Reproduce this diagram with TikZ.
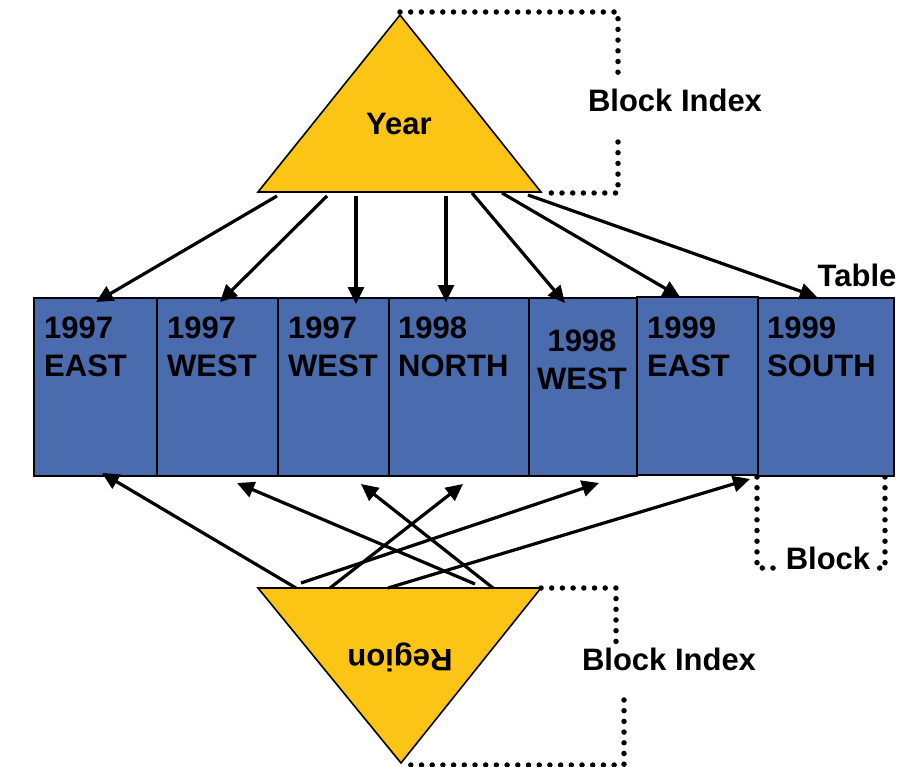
\documentclass[tikz,border=0pt]{standalone}
\usepackage{fontspec}
\setmainfont{Liberation Sans}
\usetikzlibrary{arrows.meta}
\definecolor{tri}{RGB}{252,196,20}
\definecolor{cellblue}{RGB}{75,107,175}
\tikzset{
  cell/.style={draw=black, line width=1.8pt, fill=cellblue, inner sep=0pt, anchor=north west},
  celltext/.style={font=\bfseries\fontsize{31}{38}\selectfont, inner sep=0pt, align=left},
  lbl/.style={font=\bfseries\fontsize{31}{38}\selectfont, inner sep=0pt},
  arr/.style={line width=3.2pt, -{Triangle[length=17pt,width=16pt]}},
  dots/.style={line width=5.5pt, line cap=round, dash pattern=on 0pt off 10.7pt},
  trishape/.style={draw=black, line width=1.6pt, fill=tri, line join=miter}
}
\begin{document}
\begin{tikzpicture}[x=1pt,y=-1pt]
\useasboundingbox (0,0) rectangle (907,767);

% triangles
\path[trishape] (400,15) -- (258,192) -- (541,192) -- cycle;
\path[trishape] (258,588) -- (541,588) -- (401,763) -- cycle;
\node[lbl] (year) at (399,124) {Year};
\node[lbl, rotate=180] (region) at (400,657) {Region};

% dotted brackets
\draw[dots] (400,12) -- (618,12) -- (618,75);
\draw[dots] (618,142) -- (618,193) -- (541,193);
\draw[dots] (541,588) -- (616,588) -- (616,643);
\draw[dots] (624,700) -- (624,765) -- (401,765);
\draw[dots] (757,477) -- (757,568) -- (781,568);
\draw[dots] (885,477) -- (885,568) -- (874,568);

\node[lbl, anchor=base] (bi1) at (675,112) {Block Index};
\node[lbl, anchor=base] (bi2) at (669,670) {Block Index};
\node[lbl, anchor=base] (blk) at (828,569) {Block};
\node[lbl, anchor=base] (tbl) at (857,287) {Table};

% table cells
\node[cell, minimum width=123pt, minimum height=178pt] (b1) at (33,297) {};
\node[cell, minimum width=121pt, minimum height=178pt] (b2) at (156,297) {};
\node[cell, minimum width=111pt, minimum height=178pt] (b3) at (277,297) {};
\node[cell, minimum width=140pt, minimum height=178pt] (b4) at (388,297) {};
\node[cell, minimum width=108pt, minimum height=178pt] (b5) at (528,297) {};
\node[cell, minimum width=121pt, minimum height=178pt] (b6) at (636,296) {};
\node[cell, minimum width=136pt, minimum height=178pt] (b7) at (757,297) {};

\node[celltext, anchor=north west] (t1) at (44,317) {1997\\EAST};
\node[celltext, anchor=north west] (t2) at (167,317) {1997\\WEST};
\node[celltext, anchor=north west] (t3) at (288,317) {1997\\WEST};
\node[celltext, anchor=north west] (t4) at (398,317) {1998\\NORTH};
\node[celltext, anchor=north, align=center] (t5) at (582,330) {1998\\WEST};
\node[celltext, anchor=north west] (t6) at (647,317) {1999\\EAST};
\node[celltext, anchor=north west] (t7) at (767,317) {1999\\SOUTH};

% top arrow endpoints
\coordinate (ys1) at (277,196); \coordinate (ye1) at (96,302);
\coordinate (ys2) at (327,196); \coordinate (ye2) at (220,302);
\coordinate (ys3) at (356,196); \coordinate (ye3) at (356,304);
\coordinate (ys4) at (446,196); \coordinate (ye4) at (446,302);
\coordinate (ys5) at (472,193); \coordinate (ye5) at (565,303);
\coordinate (ys6) at (502,193); \coordinate (ye6) at (680,297);
\coordinate (ys7) at (528,195); \coordinate (ye7) at (817,297);
\foreach \i in {1,...,7} \draw[arr] (ys\i) -- (ye\i);

% bottom arrow endpoints
\coordinate (rs1) at (296,588); \coordinate (re1) at (102,473);
\coordinate (rs2) at (475,584); \coordinate (re2) at (237,483);
\coordinate (rs3) at (493,588); \coordinate (re3) at (361,484);
\coordinate (rs4) at (330,588); \coordinate (re4) at (463,484);
\coordinate (rs5) at (301,583); \coordinate (re5) at (599,483);
\coordinate (rs6) at (388,588); \coordinate (re6) at (750,479);
\foreach \i in {1,...,6} \draw[arr] (rs\i) -- (re\i);
\end{tikzpicture}
\end{document}
